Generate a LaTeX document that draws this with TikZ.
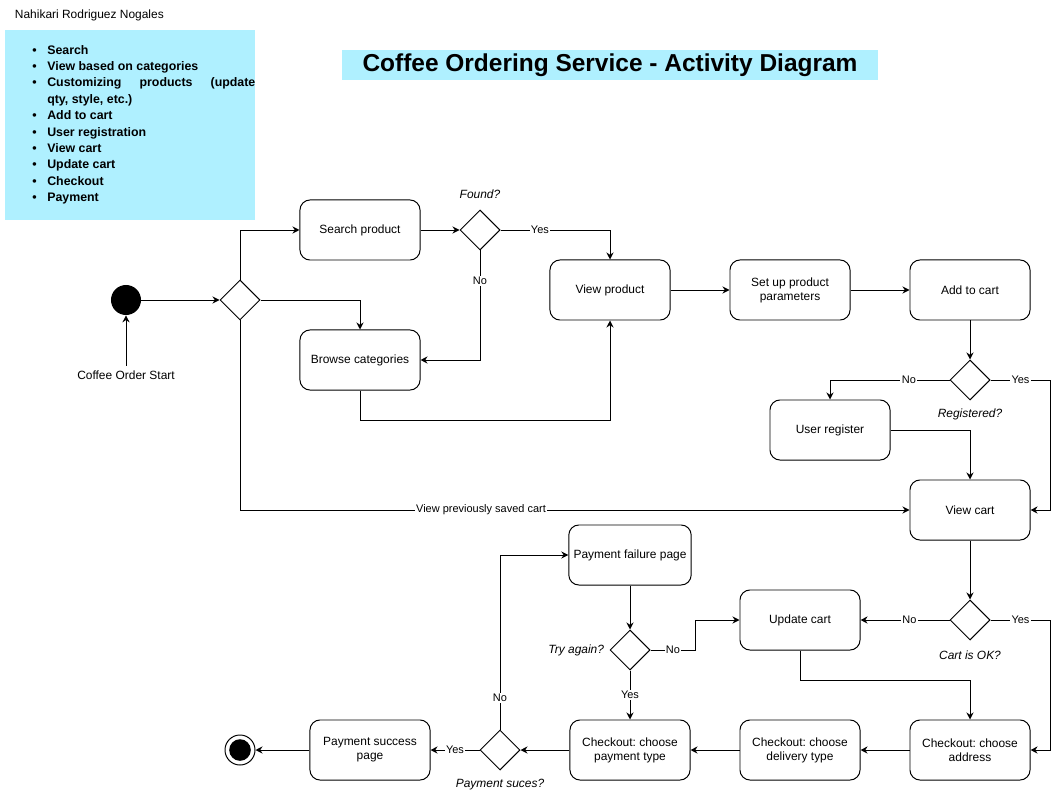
\documentclass[tikz,border=0pt]{standalone}
\usepackage{fontspec}
\setmainfont{Liberation Sans}
\usetikzlibrary{arrows.meta, positioning, calc, shapes.geometric}
\definecolor{notecyan}{RGB}{175,240,255}
\frenchspacing

\tikzset{
  action/.style={draw, line width=0.7pt, rounded corners=0.25cm, minimum width=3cm,
    minimum height=1.5cm, align=center},
  choice/.style={draw, diamond, line width=0.7pt, minimum width=1cm, minimum height=1cm, inner sep=0pt},
  guard/.style={fill=white, inner sep=1pt, font=\fontsize{7.8}{9}\selectfont},
  question/.style={font=\fontsize{8.5}{10}\selectfont\itshape},
  flow/.style={->, line width=0.7pt},
  listitem/.style={anchor=base west, inner sep=0pt, font=\fontsize{8.8}{10}\selectfont\bfseries}
}

\begin{document}
\begin{tikzpicture}[x=0.025cm, y=-0.025cm, >={Stealth[length=5pt,width=5pt]},
  every node/.style={font=\fontsize{8.5}{10}\selectfont}]
\useasboundingbox (0,0) rectangle (1059,800);

% Define the notes and the title
\node[anchor=west] (author) at (10,15) {Nahikari Rodriguez Nogales};
\fill[notecyan] (5,30) rectangle (255,220);
\foreach \y/\txt in {55/Search, 71/View based on categories, 120/Add to cart, 137/User registration,
                     153/View cart, 169/Update cart, 186/Checkout, 202/Payment} {
  \node[listitem] (bullet-\y) at (32,\y) {\textbullet};
  \node[listitem] (item-\y) at (47,\y) {\txt};
}
\node[listitem] (bullet-87) at (32,87) {\textbullet};
\node[listitem] (item-87) at (47,87) {\makebox[5.2cm][s]{Customizing products (update}};
\node[listitem] (item-104) at (47,104) {qty, style, etc.)};
\fill[notecyan] (342,50) rectangle (878,80);
\node[font=\fontsize{17.4}{20}\selectfont\bfseries] (title) at (610,65) {Coffee Ordering Service - Activity Diagram};

% Define the start and end points
\node[circle, fill=black, minimum size=0.75cm, inner sep=0pt] (start) at (126,300) {};
\node (startlabel) at (126,375) {Coffee Order Start};
\node[circle, draw, line width=0.7pt, minimum size=0.75cm, inner sep=0pt] (stop) at (240,750) {};
\fill (stop.center) circle (0.27cm);

% Define the actions
\node[action] (search) at (360,230) {Search product};
\node[action] (browse) at (360,360) {Browse categories};
\node[action] (viewprod) at (610,290) {View product};
\node[action] (setup) at (790,290) {Set up product\\parameters};
\node[action] (addcart) at (970,290) {Add to cart};
\node[action] (register) at (830,430) {User register};
\node[action] (viewcart) at (970,510) {View cart};
\node[action] (update) at (800,620) {Update cart};
\node[action] (failure) at (630,555) {Payment failure page};
\node[action] (address) at (970,750) {Checkout: choose\\address};
\node[action] (delivery) at (800,750) {Checkout: choose\\delivery type};
\node[action] (paytype) at (630,750) {Checkout: choose\\payment type};
\node[action] (success) at (370,750) {Payment success\\page};

% Define the decisions and their questions
\node[choice] (entry) at (240,300) {};
\node[choice] (found) at (480,230) {};
\node[question] (foundq) at (480,194) {Found?};
\node[choice] (registered) at (970,380) {};
\node[question] (registeredq) at (970,414) {Registered?};
\node[choice] (cartok) at (970,620) {};
\node[question] (cartokq) at (970,655) {Cart is OK?};
\node[choice] (tryagain) at (630,650) {};
\node[question, anchor=east] (tryagainq) at (609,650) {Try again?};
\node[choice] (paid) at (500,750) {};
\node[question] (paidq) at (500,785) {Payment suces?};

% Draw the flows
\draw[flow] (startlabel.north) -- (start.south);
\draw[flow] (start) -- (entry);
\draw[flow] (entry.north) |- (search.west);
\draw[flow] (entry.east) -| (browse.north);
\draw[flow] (entry.south) |- (viewcart.west) node[guard, pos=0.68] {View previously saved cart};
\draw[flow] (search) -- (found);
\draw[flow] (found.east) -| (viewprod.north) node[guard, pos=0.18] {Yes};
\draw[flow] (found.south) |- (browse.east) node[guard, pos=0.14] {No};
\draw[flow] (browse.south) -- ++(0,30) -| (viewprod.south);
\draw[flow] (viewprod) -- (setup);
\draw[flow] (setup) -- (addcart);
\draw[flow] (addcart) -- (registered);
\draw[flow] (registered.west) -| (register.north) node[guard, pos=0.17] {No};
\draw[flow] (registered.east) -- node[guard] {Yes} ++(60,0) |- (viewcart.east);
\draw[flow] (register.east) -| (viewcart.north);
\draw[flow] (viewcart) -- (cartok);
\draw[flow] (cartok) -- node[guard, pos=0.45] {No} (update);
\draw[flow] (cartok.east) -- node[guard] {Yes} ++(60,0) |- (address.east);
\draw[flow] (update.south) -- ++(0,30) -| (address.north);
\draw[flow] (address) -- (delivery);
\draw[flow] (delivery) -- (paytype);
\draw[flow] (paytype) -- (paid);
\draw[flow] (paid) -- node[guard] {Yes} (success);
\draw[flow] (paid.north) |- (failure.west) node[guard, pos=0.09] {No};
\draw[flow] (failure) -- (tryagain);
\draw[flow] (tryagain.east) -- node[guard] {No} ++(45,0) |- (update.west);
\draw[flow] (tryagain) -- node[guard] {Yes} (paytype);
\draw[flow] (success) -- (stop);
\end{tikzpicture}
\end{document}
